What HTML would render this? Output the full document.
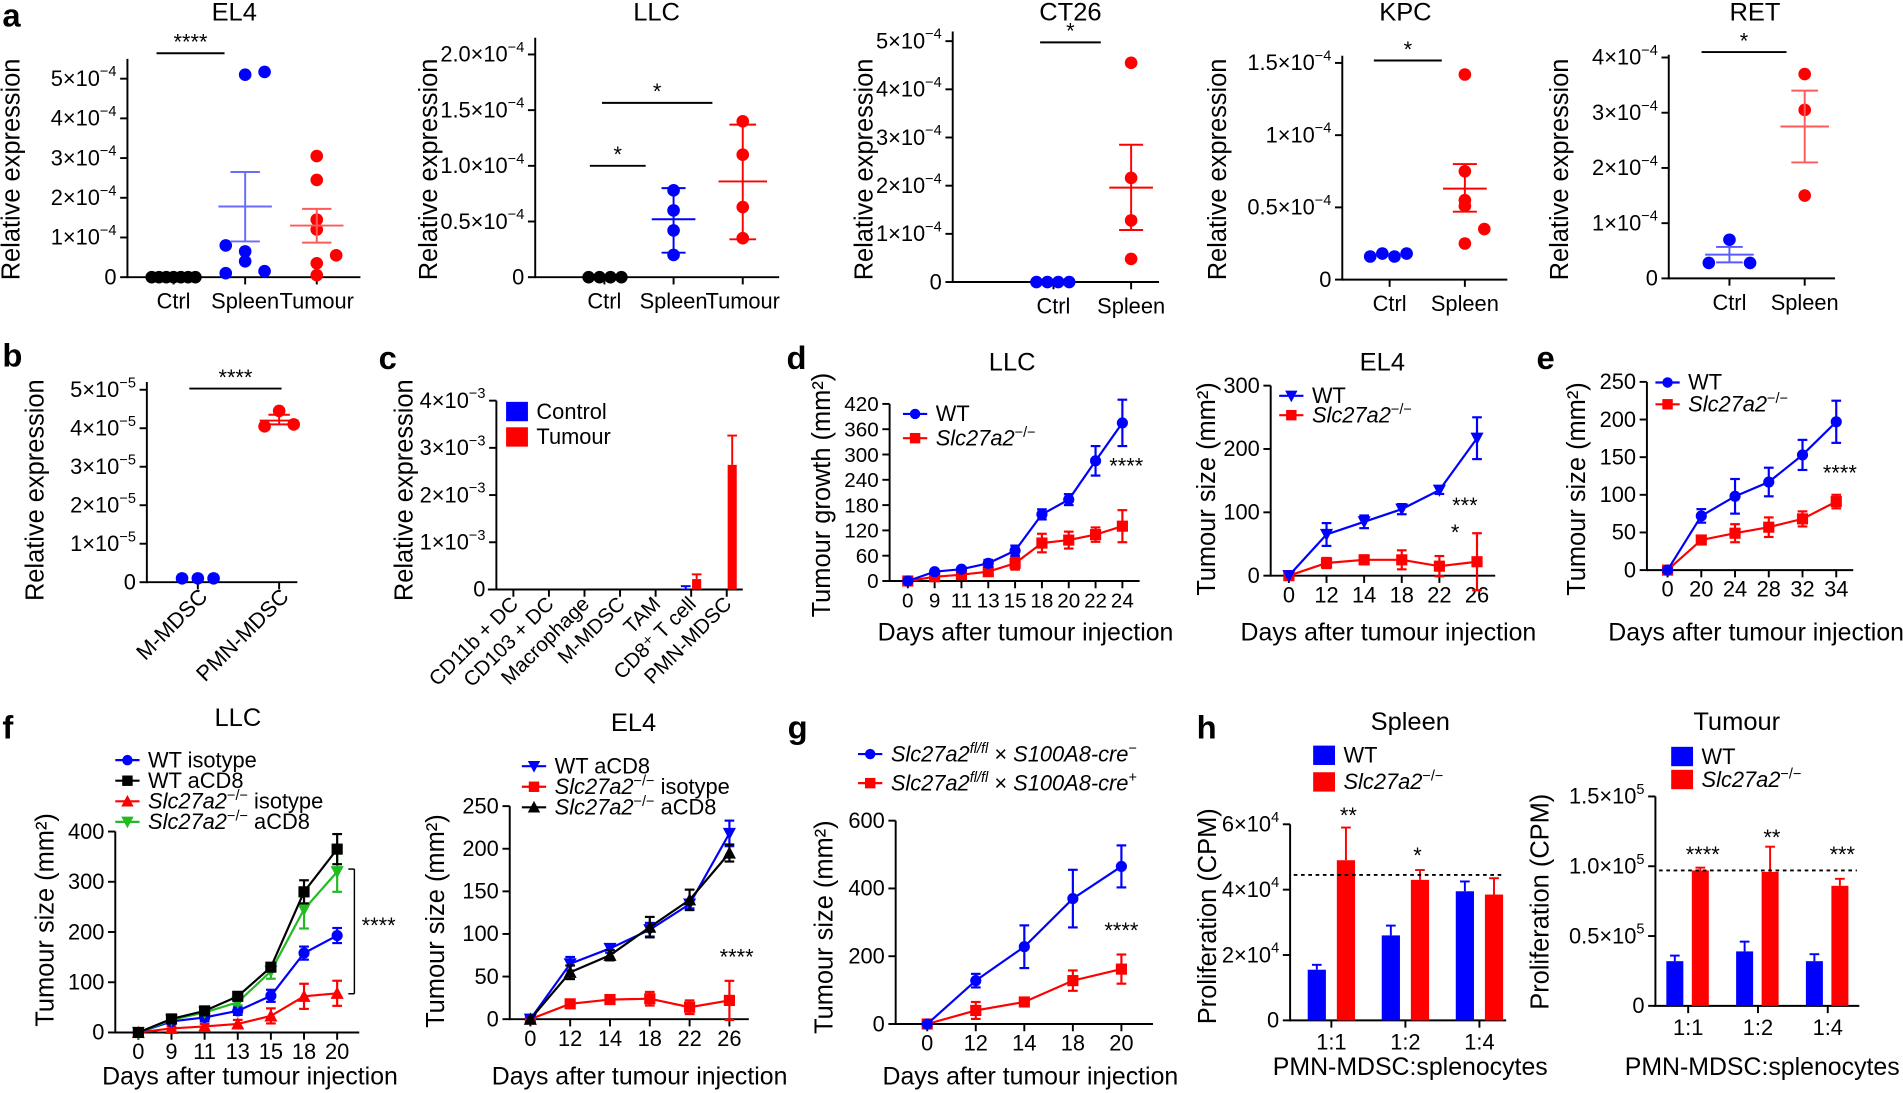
<!DOCTYPE html>
<html><head><meta charset="utf-8"><style>
html,body{margin:0;padding:0;background:#fff;}
svg{display:block;font-family:"Liberation Sans",Arial,sans-serif;}
</style></head><body>
<svg id="fig" width="1903" height="1093" viewBox="0 0 1568 903" preserveAspectRatio="none" xmlns="http://www.w3.org/2000/svg"></svg>
<script>
// ---------- data ----------
const aEL4Ctrl=[0,0,0,0,0,0,0];
const aEL4Spleen=[5.1,5.17,0.8,0.65,0.4,0.1,0.15];
const aEL4Tumour=[3.05,2.45,1.45,1.2,0.55,0.35,0.05];
const aEL4SpleenStat=[1.78,0.9,2.65];
const aEL4TumourStat=[1.3,0.87,1.72];
const aLLCCtrl=[0,0,0,0];
const aLLCSpleen=[0.78,0.6,0.42,0.2];
const aLLCTumour=[1.4,1.1,0.63,0.35];
const aLLCSpleenStat=[0.52,0.22,0.8];
const aLLCTumourStat=[0.86,0.34,1.37];
const aCT26Ctrl=[0,0,0,0];
const aCT26Spleen=[4.55,2.16,1.28,0.48];
const aCT26SpleenStat=[1.96,1.08,2.85];
const aKPCCtrl=[0.16,0.18,0.16,0.18];
const aKPCSpleen=[1.42,0.75,0.55,0.51,0.35,0.25];
const aKPCSpleenStat=[0.63,0.47,0.8];
const aRETCtrl=[0.7,0.28,0.28];
const aRETCtrlStat=[0.43,0.29,0.57];
const aRETSpleen=[3.7,3.05,1.5];
const aRETSpleenStat=[2.75,2.1,3.4];
const bMM=[0.1,0.1,0.1];
const bPMN=[4.45,4.05,4.1];
const bPMNStat=[4.2,4.1,4.35];
const cCats=["CD11b + DC","CD103 + DC","Macrophage","M-MDSC","TAM","CD8⁺ T cell","PMN-MDSC"];
const cControl=[0,0,0,0,0,0.02,0];
const cControlErr=[0,0,0,0,0,0.05,0];
const cTumour=[0,0,0,0,0,0.22,2.64];
const cTumourErr=[0,0,0,0,0,0.1,0.62];
const dLLCDays=["0","9","11","13","15","18","20","22","24"];
const dLLCWT=[0,22,28,42,72,158,193,285,375];
const dLLCWTErr=[0,3,5,8,12,12,13,35,55];
const dLLCKO=[0,10,15,22,42,90,97,110,130];
const dLLCKOErr=[0,3,4,6,15,22,20,17,38];
const dEL4Days=["0","12","14","18","22","26"];
const dEL4WT=[0,65,85,105,135,217];
const dEL4WTErr=[0,18,10,8,6,33];
const dEL4KO=[0,20,25,25,15,22];
const dEL4KOErr=[0,8,7,15,16,45];
const eDays=["0","20","24","28","32","34"];
const eWT=[0,72,98,117,153,197];
const eWTErr=[0,9,23,19,20,28];
const eKO=[0,40,49,57,68,91];
const eKOErr=[0,5,12,13,10,9];
const fLLCDays=["0","9","11","13","15","18","20"];
const fLLCWTIso=[0,22,30,43,73,158,193];
const fLLCWTIsoErr=[0,5,8,8,12,13,15];
const fLLCWTCD8=[0,27,43,72,130,280,365];
const fLLCWTCD8Err=[0,3,4,5,8,23,30];
const fLLCKOIso=[0,8,12,17,33,72,78];
const fLLCKOIsoErr=[0,4,5,8,15,25,25];
const fLLCKOCD8=[0,25,40,60,122,245,320];
const fLLCKOCD8Err=[0,4,5,6,15,38,40];
const fEL4Days=["0","12","14","18","22","26"];
const fEL4WTCD8=[0,65,83,105,135,218];
const fEL4WTCD8Err=[0,8,5,8,5,15];
const fEL4KOIso=[0,18,23,24,14,22];
const fEL4KOIsoErr=[0,4,4,8,8,23];
const fEL4KOCD8=[0,55,75,108,140,195];
const fEL4KOCD8Err=[0,8,6,12,12,10];
const gDays=["0","12","14","18","20"];
const gCreNeg=[0,128,228,370,465];
const gCreNegErr=[0,20,63,85,62];
const gCrePos=[0,40,65,128,162];
const gCrePosErr=[0,25,5,30,43];
const hRatios=["1:1","1:2","1:4"];
const hSpleenWT=[1.55,2.6,3.95];
const hSpleenWTErr=[0.15,0.3,0.3];
const hSpleenKO=[4.9,4.3,3.85];
const hSpleenKOErr=[1.0,0.3,0.5];
const hSpleenRef=4.45;
const hTumourWT=[0.32,0.39,0.32];
const hTumourWTErr=[0.04,0.07,0.05];
const hTumourKO=[0.97,0.96,0.86];
const hTumourKOErr=[0.02,0.18,0.05];
const hTumourRef=0.97;

// ---------- helpers ----------
const NS="http://www.w3.org/2000/svg";
const svg=document.getElementById("fig");
const BLUE="#0000ff",RED="#ff0000",GREEN="#22bb22",BLACK="#000";
function mk(tag,a,p){const e=document.createElementNS(NS,tag);for(const k in a)e.setAttribute(k,a[k]);(p||svg).appendChild(e);return e;}
function lin(p0,v0,p1,v1){return v=>p0+(v-v0)*(p1-p0)/(v1-v0);}
function T(x,y,html,size,anchor,name,extra){
  const t=mk("text",{x:x,y:y,"font-size":size,"text-anchor":anchor||"start",fill:"#000"});
  if(extra){for(const k in extra)t.setAttribute(k,extra[k]);}
  t.innerHTML=html;
  
  
  return t;
}
function sci(m,e,neg){return m+"×10<tspan dy='-8' font-size='12'>"+(neg?"−":"")+e+"</tspan>";}
const KO="<tspan font-style='italic'>Slc27a2</tspan><tspan dy='-7' font-size='12'>−/−</tspan>";
function KOs(s){return KO+"<tspan dy='7'> "+s+"</tspan>";}
function ln(x1,y1,x2,y2,c,w,name,dash){
  const l=mk("line",{x1:x1,y1:y1,x2:x2,y2:y2,stroke:c||BLACK,"stroke-width":w||1.6});
  if(dash)l.setAttribute("stroke-dasharray",dash);
  
  
  return l;
}
function yAxis(x,sc,vals,labels,topV,name,fs){
  ln(x,sc(vals[0])+0.8,x,sc(topV),BLACK,1.6,name+"-y-axis");
  vals.forEach((v,i)=>{ln(x-6,sc(v),x,sc(v),BLACK,1.6,name+"-y-tick");
    T(x-9,sc(v)+6,labels[i],fs||18,"end",name+"-y-tick-label");});
}
function xAxis(y,x0,x1,name){ln(x0,y,x1,y,BLACK,1.6,name+"-x-axis");}
function xTicks(y,xs,labels,name,fs,dy){
  labels.forEach((l,i)=>{ln(xs(i),y,xs(i),y+6,BLACK,1.6,name+"-x-tick");
    T(xs(i),y+(dy||24),l,fs||18,"middle",name+"-x-tick-label");});
}
function rotLabel(x,y,html,name,fs){
  T(x,y,html,fs||21,"middle",name,{transform:"rotate(-90 "+x+" "+y+")"});
}
function marker(type,x,y,c,name,s){
  s=s||4.6;let e;
  if(type==="circle")e=mk("circle",{cx:x,cy:y,r:s,fill:c});
  else if(type==="square")e=mk("rect",{x:x-s,y:y-s,width:2*s,height:2*s,fill:c});
  else if(type==="up")e=mk("polygon",{points:(x-s-0.8)+","+(y+s)+" "+(x+s+0.8)+","+(y+s)+" "+x+","+(y-s-1),fill:c});
  else e=mk("polygon",{points:(x-s-0.8)+","+(y-s)+" "+(x+s+0.8)+","+(y-s)+" "+x+","+(y+s+1),fill:c});
  
  
  return e;
}
function dots(cx,vals,jit,c,sc,name){vals.forEach((v,i)=>{const d=mk("circle",{cx:cx+jit[i],cy:sc(v),r:5.2,fill:c});
  
  });}
function stat(cx,st,c,sc,name,hw){hw=hw||22;
  ln(cx-hw,sc(st[0]),cx+hw,sc(st[0]),c,1.6,name+"-mean");
  ln(cx,sc(st[1]),cx,sc(st[2]),c,1.6,name+"-sem");
  ln(cx-hw*0.55,sc(st[1]),cx+hw*0.55,sc(st[1]),c,1.6,name+"-sem-cap");
  ln(cx-hw*0.55,sc(st[2]),cx+hw*0.55,sc(st[2]),c,1.6,name+"-sem-cap");}
function sig(x0,x1,y,stars,name){ln(x0,y,x1,y,BLACK,1.6,name+"-line");T((x0+x1)/2,y-3,stars,18,"middle",name+"-label");}
function series(xs,sc,vals,errs,c,type,name){
  let d="";vals.forEach((v,i)=>{d+=(i?"L":"M")+xs(i)+" "+sc(v);});
  const p=mk("path",{d:d,fill:"none",stroke:c,"stroke-width":1.8});
  
  
  vals.forEach((v,i)=>{if(errs[i]>0){const x=xs(i);
    ln(x,sc(v-errs[i]),x,sc(v+errs[i]),c,1.8,name+"-error");
    ln(x-4,sc(v-errs[i]),x+4,sc(v-errs[i]),c,1.8,name+"-error-cap");
    ln(x-4,sc(v+errs[i]),x+4,sc(v+errs[i]),c,1.8,name+"-error-cap");}
    marker(type,xs(i),sc(v),c,name+"-point");});
}
function legendLine(x,y,c,type,html,name,fs){
  ln(x,y,x+20,y,c,1.8,name+"-line");marker(type,x+10,y,c,name+"-marker",4.3);
  T(x+27,y+6,html,fs||18,"start",name+"-label");}
function legendBox(x,y,c,html,name){const r=mk("rect",{x:x,y:y-8,width:18,height:16,fill:c});
  
  
  T(x+25,y+6,html,18,"start",name+"-label");}
function bar(x,w,v,err,c,sc,name){
  const r=mk("rect",{x:x-w/2,y:sc(v),width:w,height:sc(0)-sc(v),fill:c});
  
  
  if(err>0){ln(x,sc(v),x,sc(v+err),c,1.6,name+"-error");ln(x-4,sc(v+err),x+4,sc(v+err),c,1.6,name+"-error-cap");}
}
function letter(x,y,s){T(x,y,s,27,"start","panel-letter-"+s,{"font-weight":"bold"});}
const idx=(x0,step)=>i=>x0+i*step;

// ---------- panel a ----------
letter(2,22,"a");
(function(){const sc=lin(229,0,65,5);
  T(193,17,"EL4",21,"middle","a-el4-title");
  yAxis(105,sc,[0,1,2,3,4,5],["0",sci(1,4,1),sci(2,4,1),sci(3,4,1),sci(4,4,1),sci(5,4,1)],5.5,"a-el4");
  xAxis(229,105,297,"a-el4");xTicks(229,idx(143,59),["Ctrl","Spleen","Tumour"],"a-el4",18,26);
  rotLabel(16,140,"Relative expression","a-el4-y-title");
  dots(143,aEL4Ctrl,[-18,-12,-6,0,6,12,18],BLACK,sc,"a-el4-ctrl-dot");
  dots(202,aEL4Spleen,[0,16,-16,0,0,-16,16],BLUE,sc,"a-el4-spleen-dot");
  dots(261,aEL4Tumour,[0,0,0,0,16,0,0],RED,sc,"a-el4-tumour-dot");
  stat(202,aEL4SpleenStat,"#6a6aff",sc,"a-el4-spleen");stat(261,aEL4TumourStat,"#ff5a5a",sc,"a-el4-tumour");
  sig(129,185,44,"****","a-el4-sig");})();
(function(){const sc=lin(229,0,45,2);
  T(541,17,"LLC",21,"middle","a-llc-title");
  yAxis(441,sc,[0,0.5,1,1.5,2],["0",sci("0.5",4,1),sci("1.0",4,1),sci("1.5",4,1),sci("2.0",4,1)],2.15,"a-llc");
  xAxis(229,441,642,"a-llc");xTicks(229,idx(498,57),["Ctrl","Spleen","Tumour"],"a-llc",18,26);
  rotLabel(360,140,"Relative expression","a-llc-y-title");
  dots(498,aLLCCtrl,[-13,-4,5,14],BLACK,sc,"a-llc-ctrl-dot");
  dots(555,aLLCSpleen,[0,0,0,0],BLUE,sc,"a-llc-spleen-dot");
  dots(612,aLLCTumour,[0,0,0,0],RED,sc,"a-llc-tumour-dot");
  stat(555,aLLCSpleenStat,BLUE,sc,"a-llc-spleen",18);stat(612,aLLCTumourStat,RED,sc,"a-llc-tumour",20);
  sig(486,532,137,"*","a-llc-sig1");sig(496,587,85,"*","a-llc-sig2");})();
(function(){const sc=lin(233,0,34,5);
  T(882,17,"CT26",21,"middle","a-ct26-title");
  yAxis(785,sc,[0,1,2,3,4,5],["0",sci(1,4,1),sci(2,4,1),sci(3,4,1),sci(4,4,1),sci(5,4,1)],5.2,"a-ct26");
  xAxis(233,785,955,"a-ct26");xTicks(233,idx(868,64),["Ctrl","Spleen"],"a-ct26",18,26);
  rotLabel(719,140,"Relative expression","a-ct26-y-title");
  dots(868,aCT26Ctrl,[-14,-5,4,13],BLUE,sc,"a-ct26-ctrl-dot");
  dots(932,aCT26Spleen,[0,0,0,0],RED,sc,"a-ct26-spleen-dot");
  stat(932,aCT26SpleenStat,RED,sc,"a-ct26-spleen",18);
  sig(857,907,35,"*","a-ct26-sig");})();
(function(){const sc=lin(231,0,52,1.5);
  T(1158,17,"KPC",21,"middle","a-kpc-title");
  yAxis(1106,sc,[0,0.5,1,1.5],["0",sci("0.5",4,1),sci(1,4,1),sci("1.5",4,1)],1.55,"a-kpc");
  xAxis(231,1106,1242,"a-kpc");xTicks(231,idx(1145,62),["Ctrl","Spleen"],"a-kpc",18,26);
  rotLabel(1010,140,"Relative expression","a-kpc-y-title");
  dots(1145,aKPCCtrl,[-16,-6,4,14],BLUE,sc,"a-kpc-ctrl-dot");
  dots(1207,aKPCSpleen,[0,0,0,0,16,0],RED,sc,"a-kpc-spleen-dot");
  stat(1207,aKPCSpleenStat,RED,sc,"a-kpc-spleen",18);
  sig(1132,1188,50,"*","a-kpc-sig");})();
(function(){const sc=lin(230,0,47.5,4);
  T(1446,17,"RET",21,"middle","a-ret-title");
  yAxis(1375,sc,[0,1,2,3,4],["0",sci(1,4,1),sci(2,4,1),sci(3,4,1),sci(4,4,1)],4.05,"a-ret");
  xAxis(230,1375,1512,"a-ret");xTicks(230,idx(1425,62),["Ctrl","Spleen"],"a-ret",18,26);
  rotLabel(1292,140,"Relative expression","a-ret-y-title");
  dots(1425,aRETCtrl,[0,-17,17],BLUE,sc,"a-ret-ctrl-dot");
  dots(1487,aRETSpleen,[0,0,0],RED,sc,"a-ret-spleen-dot");
  stat(1425,aRETCtrlStat,"#5a5aff",sc,"a-ret-ctrl",20);stat(1487,aRETSpleenStat,"#ff5a5a",sc,"a-ret-spleen",20);
  sig(1402,1472,43,"*","a-ret-sig");})();

// ---------- panel b ----------
letter(2,303,"b");
(function(){const sc=lin(481,0,322,5);
  yAxis(121,sc,[0,1,2,3,4,5],["0",sci(1,5,1),sci(2,5,1),sci(3,5,1),sci(4,5,1),sci(5,5,1)],5.2,"b");
  xAxis(481,121,245,"b");
  [163,230].forEach((x,i)=>{ln(x,481,x,487,BLACK,1.6,"b-x-tick");});
  T(172,494,"M-MDSC",18,"end","b-x-tick-label",{transform:"rotate(-45 172 494)"});
  T(239,494,"PMN-MDSC",18,"end","b-x-tick-label",{transform:"rotate(-45 239 494)"});
  rotLabel(36,405,"Relative expression","b-y-title");
  dots(163,bMM,[-13,0,13],BLUE,sc,"b-mmdsc-dot");
  dots(230,bPMN,[0,-12,12],RED,sc,"b-pmn-dot");
  stat(230,bPMNStat,RED,sc,"b-pmn",16);
  sig(156,232,321,"****","b-sig");})();

// ---------- panel c ----------
letter(312,305,"c");
(function(){const sc=lin(487,0,331,4);const xs=idx(423,29.3);
  yAxis(409,sc,[0,1,2,3,4],["0",sci(1,3,1),sci(2,3,1),sci(3,3,1),sci(4,3,1)],4,"c");
  xAxis(487,402,612,"c");
  cCats.forEach((c,i)=>{ln(xs(i),487,xs(i),493,BLACK,1.6,"c-x-tick");
    T(xs(i)+5,500,c,17,"end","c-x-tick-label",{transform:"rotate(-45 "+(xs(i)+5)+" 500)"});});
  rotLabel(340,405,"Relative expression","c-y-title");
  legendBox(417,340,BLUE,"Control","c-legend-control");legendBox(417,361,RED,"Tumour","c-legend-tumour");
  cCats.forEach((c,i)=>{if(cControl[i]>0)bar(xs(i)-4.5,7.5,cControl[i],cControlErr[i],BLUE,sc,"c-bar-control");
    if(cTumour[i]>0)bar(xs(i)+4.5,7.5,cTumour[i],cTumourErr[i],RED,sc,"c-bar-tumour");});})();

// ---------- panel d ----------
letter(648,305,"d");
(function(){const sc=lin(480,0,333.7,420);const xs=idx(748,22.1);
  T(834,306,"LLC",21,"middle","d-llc-title");
  yAxis(733,sc,[0,60,120,180,240,300,360,420],["0","60","120","180","240","300","360","420"],420,"d-llc",17);
  xAxis(480,733,939,"d-llc");xTicks(480,xs,dLLCDays,"d-llc",17,22);
  rotLabel(684,409,"Tumour growth (mm²)","d-llc-y-title");
  T(845,529,"Days after tumour injection",20.5,"middle","d-llc-x-title");
  series(xs,sc,dLLCKO,dLLCKOErr,RED,"square","d-llc-ko");
  series(xs,sc,dLLCWT,dLLCWTErr,BLUE,"circle","d-llc-wt");
  legendLine(744,342,BLUE,"circle","WT","d-llc-legend-wt");legendLine(744,362,RED,"square",KO,"d-llc-legend-ko");
  T(928,391,"****",18,"middle","d-llc-sig");})();
(function(){const sc=lin(475.6,0,318.6,300);const xs=idx(1062,31);
  T(1139,306,"EL4",21,"middle","d-el4-title");
  yAxis(1047,sc,[0,100,200,300],["0","100","200","300"],300,"d-el4",18);
  xAxis(475.6,1047,1232,"d-el4");xTicks(475.6,xs,dEL4Days,"d-el4",18,22);
  rotLabel(1001,404,"Tumour size (mm²)","d-el4-y-title");
  T(1144,529,"Days after tumour injection",20.5,"middle","d-el4-x-title");
  series(xs,sc,dEL4KO,dEL4KOErr,RED,"square","d-el4-ko");
  series(xs,sc,dEL4WT,dEL4WTErr,BLUE,"down","d-el4-wt");
  legendLine(1054,327,BLUE,"down","WT","d-el4-legend-wt");legendLine(1054,343,RED,"square",KO,"d-el4-legend-ko");
  T(1207,424,"***",18,"middle","d-el4-sig1");T(1199,446,"*",18,"middle","d-el4-sig2");})();

// ---------- panel e ----------
letter(1266,305,"e");
(function(){const sc=lin(471,0,315.5,250);const xs=idx(1374,27.8);
  yAxis(1357,sc,[0,50,100,150,200,250],["0","50","100","150","200","250"],250,"e",18);
  xAxis(471,1357,1527,"e");xTicks(471,xs,eDays,"e",18,22);
  rotLabel(1306,404,"Tumour size (mm²)","e-y-title");
  T(1447,529,"Days after tumour injection",20.5,"middle","e-x-title");
  series(xs,sc,eKO,eKOErr,RED,"square","e-ko");
  series(xs,sc,eWT,eWTErr,BLUE,"circle","e-wt");
  legendLine(1364,316,BLUE,"circle","WT","e-legend-wt");legendLine(1364,334,RED,"square",KO,"e-legend-ko");
  T(1516,397,"****",18,"middle","e-sig");})();

// ---------- panel f ----------
letter(2,610,"f");
(function(){const sc=lin(853,0,687,400);const xs=idx(114,27.3);
  T(196,600,"LLC",21,"middle","f-llc-title");
  yAxis(95,sc,[0,100,200,300,400],["0","100","200","300","400"],400,"f-llc",18);
  xAxis(853,95,296,"f-llc");xTicks(853,xs,fLLCDays,"f-llc",18,22);
  rotLabel(44,760,"Tumour size (mm²)","f-llc-y-title");
  T(206,896,"Days after tumour injection",20.5,"middle","f-llc-x-title");
  series(xs,sc,fLLCKOIso,fLLCKOIsoErr,RED,"up","f-llc-ko-iso");
  series(xs,sc,fLLCWTIso,fLLCWTIsoErr,BLUE,"circle","f-llc-wt-iso");
  series(xs,sc,fLLCKOCD8,fLLCKOCD8Err,GREEN,"down","f-llc-ko-cd8");
  series(xs,sc,fLLCWTCD8,fLLCWTCD8Err,BLACK,"square","f-llc-wt-cd8");
  legendLine(95,628,BLUE,"circle","WT isotype","f-llc-legend-wt-iso");
  legendLine(95,645,BLACK,"square","WT aCD8","f-llc-legend-wt-cd8");
  legendLine(95,662,RED,"up",KOs("isotype"),"f-llc-legend-ko-iso");
  legendLine(95,679,GREEN,"down",KOs("aCD8"),"f-llc-legend-ko-cd8");
  ln(287,718,292,718,BLACK,1.2,"f-llc-bracket");ln(292,718,292,821,BLACK,1.2,"f-llc-bracket");ln(287,821,292,821,BLACK,1.2,"f-llc-bracket");
  T(298,771,"****",18,"start","f-llc-sig");})();
(function(){const sc=lin(842,0,666,250);const xs=idx(437,32.8);
  T(522,604,"EL4",21,"middle","f-el4-title");
  yAxis(420,sc,[0,50,100,150,200,250],["0","50","100","150","200","250"],250,"f-el4",18);
  xAxis(842,420,617,"f-el4");xTicks(842,xs,fEL4Days,"f-el4",18,22);
  rotLabel(366,761,"Tumour size (mm²)","f-el4-y-title");
  T(527,896,"Days after tumour injection",20.5,"middle","f-el4-x-title");
  series(xs,sc,fEL4KOIso,fEL4KOIsoErr,RED,"square","f-el4-ko-iso");
  series(xs,sc,fEL4WTCD8,fEL4WTCD8Err,BLUE,"down","f-el4-wt-cd8");
  series(xs,sc,fEL4KOCD8,fEL4KOCD8Err,BLACK,"up","f-el4-ko-cd8");
  legendLine(430,633,BLUE,"down","WT aCD8","f-el4-legend-wt-cd8");
  legendLine(430,650,RED,"square",KOs("isotype"),"f-el4-legend-ko-iso");
  legendLine(430,667,BLACK,"up",KOs("aCD8"),"f-el4-legend-ko-cd8");
  T(607,797,"****",18,"middle","f-el4-sig");})();

// ---------- panel g ----------
letter(649,610,"g");
(function(){const sc=lin(846,0,678,600);const xs=idx(764,40);
  yAxis(738,sc,[0,200,400,600],["0","200","400","600"],600,"g",18);
  xAxis(846,738,950,"g");xTicks(846,xs,gDays,"g",18,22);
  rotLabel(686,766,"Tumour size (mm²)","g-y-title");
  T(849,896,"Days after tumour injection",20.5,"middle","g-x-title");
  series(xs,sc,gCrePos,gCrePosErr,RED,"square","g-cre-pos");
  series(xs,sc,gCreNeg,gCreNegErr,BLUE,"circle","g-cre-neg");
  const G1="<tspan font-style='italic'>Slc27a2</tspan><tspan dy='-7' font-size='12' font-style='italic'>fl/fl</tspan><tspan dy='7'> × </tspan><tspan font-style='italic'>S100A8-cre</tspan><tspan dy='-7' font-size='12'>";
  legendLine(707,623,BLUE,"circle",G1+"−</tspan>","g-legend-cre-neg");
  legendLine(707,647,RED,"square",G1+"+</tspan>","g-legend-cre-pos");
  T(924,775,"****",18,"middle","g-sig");})();

// ---------- panel h ----------
letter(986,610,"h");
(function(){const sc=lin(843,0,681,6);const xs=idx(1097,61);
  T(1162,603,"Spleen",21,"middle","h-spleen-title");
  yAxis(1063,sc,[0,2,4,6],["0",sci(2,4),sci(4,4),sci(6,4)],6,"h-spleen",18);
  xAxis(843,1063,1241,"h-spleen");xTicks(843,xs,hRatios,"h-spleen",18,24);
  rotLabel(1002,757,"Proliferation (CPM)","h-spleen-y-title");
  T(1162,888,"PMN-MDSC:splenocytes",20.5,"middle","h-spleen-x-title");
  hRatios.forEach((r,i)=>{bar(xs(i)-12,15,hSpleenWT[i],hSpleenWTErr[i],BLUE,sc,"h-spleen-bar-wt");
    bar(xs(i)+12,15,hSpleenKO[i],hSpleenKOErr[i],RED,sc,"h-spleen-bar-ko");});
  ln(1066,sc(hSpleenRef),1237,sc(hSpleenRef),BLACK,1.5,"h-spleen-reference-line","3,3");
  legendBox(1082,624,BLUE,"WT","h-spleen-legend-wt");legendBox(1082,646,RED,KO,"h-spleen-legend-ko");
  T(1111,680,"**",18,"middle","h-spleen-sig1");T(1168,713,"*",18,"middle","h-spleen-sig2");})();
(function(){const sc=lin(831,0,658,1.5);const xs=idx(1391,57.5);
  T(1431,603,"Tumour",21,"middle","h-tumour-title");
  yAxis(1364,sc,[0,0.5,1,1.5],["0",sci("0.5",5),sci("1.0",5),sci("1.5",5)],1.5,"h-tumour",18);
  xAxis(831,1364,1532,"h-tumour");xTicks(831,xs,hRatios,"h-tumour",18,24);
  rotLabel(1276,745,"Proliferation (CPM)","h-tumour-y-title");
  T(1452,888,"PMN-MDSC:splenocytes",20.5,"middle","h-tumour-x-title");
  hRatios.forEach((r,i)=>{bar(xs(i)-11,14,hTumourWT[i],hTumourWTErr[i],BLUE,sc,"h-tumour-bar-wt");
    bar(xs(i)+10,14,hTumourKO[i],hTumourKOErr[i],RED,sc,"h-tumour-bar-ko");});
  ln(1367,sc(hTumourRef),1530,sc(hTumourRef),BLACK,1.5,"h-tumour-reference-line","3,3");
  legendBox(1377,625,BLUE,"WT","h-tumour-legend-wt");legendBox(1377,644,RED,KO,"h-tumour-legend-ko");
  T(1403,712,"****",18,"middle","h-tumour-sig1");T(1460,698,"**",18,"middle","h-tumour-sig2");T(1518,712,"***",18,"middle","h-tumour-sig3");})();
</script>
</body></html>
